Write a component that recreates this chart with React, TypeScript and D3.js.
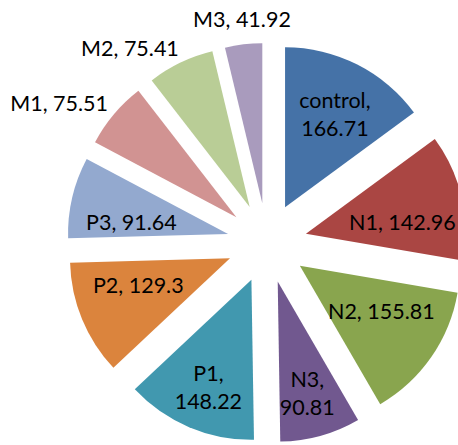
import React, { useMemo } from "react";
import * as d3 from "d3";

const categories = ["control", "N1", "N2", "N3", "P1", "P2", "P3", "M1", "M2", "M3"];
const values = [166.71, 142.96, 155.81, 90.81, 148.22, 129.3, 91.64, 75.51, 75.41, 41.92];
const colors = [
  "#4572A7", "#AA4643", "#89A54E", "#71588F", "#4198AF",
  "#DB843D", "#93A9CF", "#D19392", "#B9CD96", "#A99BBD",
];

const W = 458;
const H = 445;
const CX = 267;
const CY = 243;
const R = 160;
const EXPLODE = 40;
const FONT_SIZE = 21.5;
const FONT = "Lato, 'Noto Sans', sans-serif";
const LINE_H = 28;
const BOX_H = 22;

function measure(text: string): number {
  if (typeof document === "undefined") return text.length * FONT_SIZE * 0.5;
  const c = document.createElement("canvas");
  const ctx = c.getContext("2d");
  if (!ctx) return text.length * FONT_SIZE * 0.5;
  ctx.font = `${FONT_SIZE}px Lato`;
  return ctx.measureText(text).width;
}

function halfWidths(a0: number, a1: number, lx: number, ly: number): [number, number] {
  const inside = (x: number) => {
    const r = Math.sqrt(x * x + ly * ly);
    if (r > R) return false;
    let a = Math.atan2(x, -ly);
    if (a < 0) a += Math.PI * 2;
    return a >= a0 && a <= a1;
  };
  let l = lx;
  let rr = lx;
  while (l > -R && inside(l - 0.5)) l -= 0.5;
  while (rr < R && inside(rr + 0.5)) rr += 0.5;
  return [lx - l, rr - lx];
}

export default function App() {
  const pie = d3.pie<number>().sort(null).value((d) => d).startAngle(0).endAngle(Math.PI * 2);
  const arcs = pie(values);
  const arcGen = d3.arc<d3.PieArcDatum<number>>().innerRadius(0).outerRadius(R);

  const items = useMemo(
    () =>
      arcs.map((a, i) => {
        const mid = (a.startAngle + a.endAngle) / 2;
        const dx = Math.sin(mid);
        const dy = -Math.cos(mid);
        const ox = CX + dx * EXPLODE;
        const oy = CY + dy * EXPLODE;
        const text = `${categories[i]}, ${values[i]}`;
        const span = a.endAngle - a.startAngle;
        let lines: string[] = [text];
        let x = 0;
        let y = 0;
        let anchor: "start" | "middle" | "end" = "middle";
        if (span > 0.45) {
          let lr = R * 0.62;
          let lx = dx * lr;
          let ly = dy * lr - Math.sign(dy) * (BOX_H / 2);
          const [hl, hr] = halfWidths(a.startAngle, a.endAngle, lx, ly);
          const half = measure(text) / 2;
          if (half > Math.min(hl, hr) + 6) {
            lines = [`${categories[i]},`, `${values[i]}`];
            lr = R * 0.69;
            lx = dx * lr;
            ly = dy * lr + 5;
          }
          x = ox + lx;
          y = oy + ly - ((lines.length - 1) * LINE_H) / 2;
        } else {
          const pr = R + 13;
          const px = ox + dx * pr;
          const py = oy + dy * pr;
          if (Math.abs(dx) < 0.3) {
            anchor = "middle";
            x = px;
            y = py + (dy < 0 ? -FONT_SIZE * 0.6 : FONT_SIZE * 0.6);
          } else {
            anchor = dx < 0 ? "end" : "start";
            x = px + (dx < 0 ? 4 : -4);
            y = py - 3;
          }
        }
        return { a, i, ox, oy, lines, x, y, anchor };
      }),
    []
  );

  return (
    <svg
      width={W}
      height={H}
      style={{ position: "absolute", left: 0, top: 0, background: "#fff" }}
      fontFamily={FONT}
      fontSize={FONT_SIZE}
    >
      {items.map((it) => (
        <path
          key={`s${it.i}`}
          d={arcGen(it.a) || ""}
          transform={`translate(${it.ox},${it.oy})`}
          fill={colors[it.i]}
        />
      ))}
      {items.map((it) => (
        <text
          key={`t${it.i}`}
          x={it.x}
          y={it.y}
          textAnchor={it.anchor}
          dominantBaseline="central"
          fill="#000"
        >
          {it.lines.map((ln, k) => (
            <tspan key={k} x={it.x} dy={k === 0 ? 0 : LINE_H}>
              {ln}
            </tspan>
          ))}
        </text>
      ))}
    </svg>
  );
}
